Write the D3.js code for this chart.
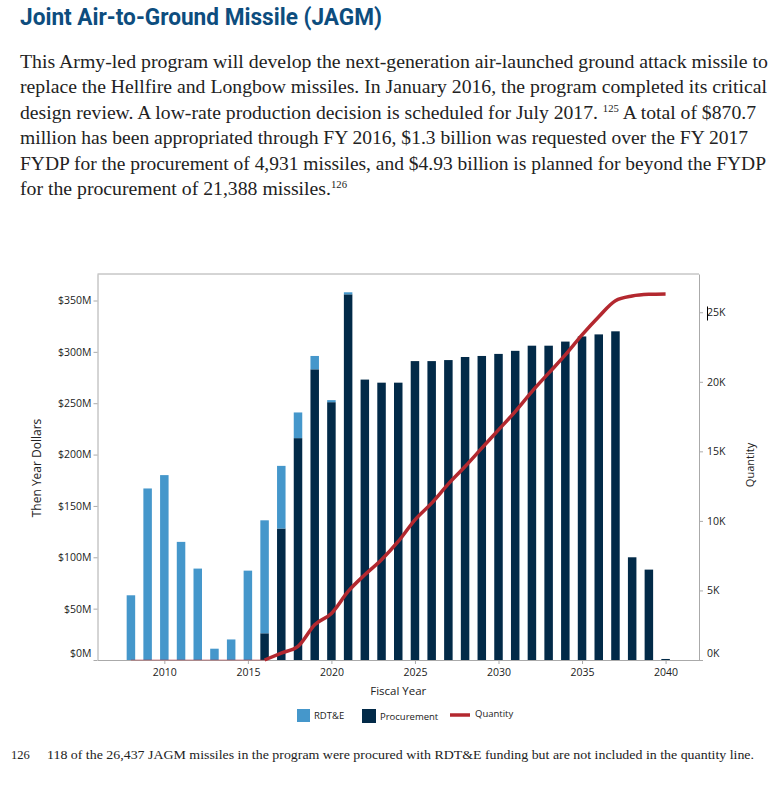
<!DOCTYPE html>
<html>
<head>
<meta charset="utf-8">
<script src="https://cdn.jsdelivr.net/npm/d3@7"></script>
<style>
  body { margin: 0; background: #fff; }
  .tick text { font-family: "Open Sans", sans-serif; font-size: 10.5px; fill: #222; }
  .domain { stroke: #aaa; }
  .tick line { stroke: #aaa; }
</style>
</head>
<body>
<div id="chart"></div>
<script>
// fiscal years shown on the chart
var years = d3.range(2008, 2041);

// RDT&E funding, $M (then year)
var rdte = [63, 167, 180, 115, 89, 11, 20, 87, 110, 61, 25, 13, 2, 2,
  0, 0, 0, 0, 0, 0, 0, 0, 0, 0, 0, 0, 0, 0, 0, 0, 0, 0, 0];

// Procurement funding, $M (then year)
var procurement = [0, 0, 0, 0, 0, 0, 0, 0, 26, 128, 216, 283, 251, 356,
  273, 270, 270, 291, 291, 292, 295, 296, 298, 301, 306, 306, 310, 315, 317, 320, 100, 88, 1];

// cumulative quantity of missiles
var quantity = [0, 0, 0, 0, 0, 0, 0, 0, 0, 500, 980, 2535, 3350, 4931,
  6130, 7210, 8520, 10080, 11280, 12660, 13910, 15230, 16540, 17860, 19300, 20620,
  21930, 23370, 24680, 25830, 26170, 26290, 26319];

var dollarTicks = [0, 50, 100, 150, 200, 250, 300, 350];
var qtyTicks = [0, 5000, 10000, 15000, 20000, 25000];
var yearTicks = [2010, 2015, 2020, 2025, 2030, 2035, 2040];

var bodyLines = [
  ["This Army-led program will develop the next-generation air-launched ground attack missile to"],
  ["replace the Hellfire and Longbow missiles. In January 2016, the program completed its critical"],
  ["design review. A low-rate production decision is scheduled for July 2017. ", "125", " A total of $870.7"],
  ["million has been appropriated through FY 2016, $1.3 billion was requested over the FY 2017"],
  ["FYDP for the procurement of 4,931 missiles, and $4.93 billion is planned for beyond the FYDP"],
  ["for the procurement of 21,388 missiles.", "126"]
];
var bodyWidths = [748, 747, 736, 728, 746, 327];

var svgWidth = 772;
var svgHeight = 791;

var svg = d3.select("#chart")
  .append("svg")
  .attr("width", svgWidth)
  .attr("height", svgHeight);

// title
svg.append("text")
  .attr("x", 20)
  .attr("y", 25)
  .attr("textLength", 362)
  .attr("lengthAdjust", "spacingAndGlyphs")
  .attr("font-family", "'Liberation Sans Narrow', Roboto, sans-serif")
  .attr("font-weight", "bold")
  .attr("font-size", "24px")
  .attr("fill", "#0d4d7e")
  .text("Joint Air-to-Ground Missile (JAGM)");

// paragraph, one text per line
bodyLines.forEach(function(parts, i) {
  var t = svg.append("text")
    .attr("x", 20)
    .attr("y", 68 + i * 25.4)
    .attr("textLength", bodyWidths[i])
    .attr("lengthAdjust", "spacingAndGlyphs")
    .attr("font-family", "'Liberation Serif', serif")
    .attr("font-size", "18.5px")
    .attr("fill", "#222");
  parts.forEach(function(p, j) {
    var s = t.append("tspan").text(p);
    if (j % 2 === 1) {
      s.attr("font-size", "10px").attr("dy", -7);
    } else if (j > 0) {
      s.attr("dy", 7);
    }
  });
});

// plot area
var plot = { left: 97.5, right: 699, top: 274, bottom: 660 };

var x = d3.scaleLinear()
  .domain([2006, 2042])
  .range([plot.left, plot.right]);

var yDollars = d3.scaleLinear()
  .domain([0, 375.8])
  .range([plot.bottom, plot.top]);

var yQty = d3.scaleLinear()
  .domain([0, 27750])
  .range([plot.bottom, plot.top]);

var barWidth = 8.5;

// frame top line
svg.append("line")
  .attr("x1", plot.left).attr("x2", plot.right)
  .attr("y1", plot.top).attr("y2", plot.top)
  .attr("stroke", "#aaa");

// axes
var leftAxis = svg.append("g")
  .attr("transform", `translate(${plot.left},0)`)
  .call(d3.axisLeft(yDollars).tickValues(dollarTicks).tickSize(4).tickSizeOuter(0)
    .tickFormat(function(d) { return "$" + d + "M"; }));

var rightAxis = svg.append("g")
  .attr("transform", `translate(${plot.right},0)`)
  .call(d3.axisRight(yQty).tickValues(qtyTicks).tickSize(4).tickSizeOuter(0)
    .tickFormat(function(d) { return (d / 1000) + "K"; }));

var bottomAxis = svg.append("g")
  .attr("transform", `translate(0,${plot.bottom})`)
  .call(d3.axisBottom(x).tickValues(yearTicks).tickSize(4).tickSizeOuter(0)
    .tickFormat(d3.format("d")));

// zero labels sit a bit above the baseline
leftAxis.selectAll(".tick").filter(function(d) { return d === 0; })
  .select("text").attr("dy", "-0.35em");
rightAxis.selectAll(".tick").filter(function(d) { return d === 0; })
  .select("text").attr("dy", "-0.35em");
leftAxis.selectAll(".tick text").attr("x", -6);
rightAxis.selectAll(".tick text").attr("x", 8);
bottomAxis.selectAll(".tick text").attr("y", 9);

// stacked bars
var rows = years.map(function(yr, i) {
  return { year: yr, rdte: rdte[i], proc: procurement[i], qty: quantity[i] };
});

svg.append("g").selectAll("rect")
  .data(rows.filter(function(d) { return d.proc > 0; }))
  .enter()
  .append("rect")
  .attr("x", d => x(d.year) - barWidth / 2)
  .attr("width", barWidth)
  .attr("y", d => yDollars(d.proc))
  .attr("height", d => yDollars(0) - yDollars(d.proc))
  .attr("fill", "#022a48");

svg.append("g").selectAll("rect")
  .data(rows.filter(function(d) { return d.rdte > 0; }))
  .enter()
  .append("rect")
  .attr("x", d => x(d.year) - barWidth / 2)
  .attr("width", barWidth)
  .attr("y", d => yDollars(d.proc + d.rdte))
  .attr("height", d => yDollars(d.proc) - yDollars(d.proc + d.rdte))
  .attr("fill", "#4597cb");

// quantity line, faint while still at zero
var line = d3.line()
  .x(d => x(d.year))
  .y(d => yQty(d.qty))
  .curve(d3.curveMonotoneX);

svg.append("path")
  .datum(rows.filter(function(d) { return d.year <= 2016; }))
  .attr("d", line)
  .attr("fill", "none")
  .attr("stroke", "#b3282f")
  .attr("stroke-opacity", 0.25)
  .attr("stroke-width", 2);

svg.append("path")
  .datum(rows.filter(function(d) { return d.year >= 2016; }))
  .attr("d", line)
  .attr("fill", "none")
  .attr("stroke", "#b3282f")
  .attr("stroke-width", 3.5);

// little cursor mark next to 25K
svg.append("line")
  .attr("x1", 707.5).attr("x2", 707.5)
  .attr("y1", 306.5).attr("y2", 320.5)
  .attr("stroke", "#000");

// axis titles
svg.append("text")
  .attr("transform", "translate(41,468) rotate(-90)")
  .attr("text-anchor", "middle")
  .attr("font-family", "'Open Sans', sans-serif")
  .attr("font-size", "12px")
  .attr("fill", "#222")
  .text("Then Year Dollars");

svg.append("text")
  .attr("transform", "translate(754,465) rotate(-90)")
  .attr("text-anchor", "middle")
  .attr("font-family", "'Open Sans', sans-serif")
  .attr("font-size", "11px")
  .attr("fill", "#222")
  .text("Quantity");

svg.append("text")
  .attr("x", (plot.left + plot.right) / 2)
  .attr("y", 695)
  .attr("text-anchor", "middle")
  .attr("font-family", "'Open Sans', sans-serif")
  .attr("font-size", "11.5px")
  .attr("fill", "#222")
  .text("Fiscal Year");

// legend
var legend = svg.append("g")
  .attr("font-family", "'Open Sans', sans-serif")
  .attr("font-size", "9.5px")
  .attr("fill", "#222");

legend.append("rect").attr("x", 297).attr("y", 709).attr("width", 13).attr("height", 13).attr("fill", "#4597cb");
legend.append("text").attr("x", 314).attr("y", 719).text("RDT&E");
legend.append("rect").attr("x", 362).attr("y", 709).attr("width", 14).attr("height", 14).attr("fill", "#022a48");
legend.append("text").attr("x", 380).attr("y", 720).text("Procurement");
legend.append("line").attr("x1", 450).attr("x2", 470).attr("y1", 715).attr("y2", 715)
  .attr("stroke", "#b3282f").attr("stroke-width", 3.5);
legend.append("text").attr("x", 475).attr("y", 717).text("Quantity");

// footnote
svg.append("text")
  .attr("x", 11)
  .attr("y", 759)
  .attr("font-family", "'Liberation Serif', serif")
  .attr("font-size", "12.5px")
  .attr("fill", "#222")
  .text("126");

svg.append("text")
  .attr("x", 47)
  .attr("y", 759)
  .attr("textLength", 707)
  .attr("lengthAdjust", "spacingAndGlyphs")
  .attr("font-family", "'Liberation Serif', serif")
  .attr("font-size", "12.5px")
  .attr("fill", "#222")
  .text("118 of the 26,437 JAGM missiles in the program were procured with RDT&E funding but are not included in the quantity line.");
</script>
</body>
</html>
